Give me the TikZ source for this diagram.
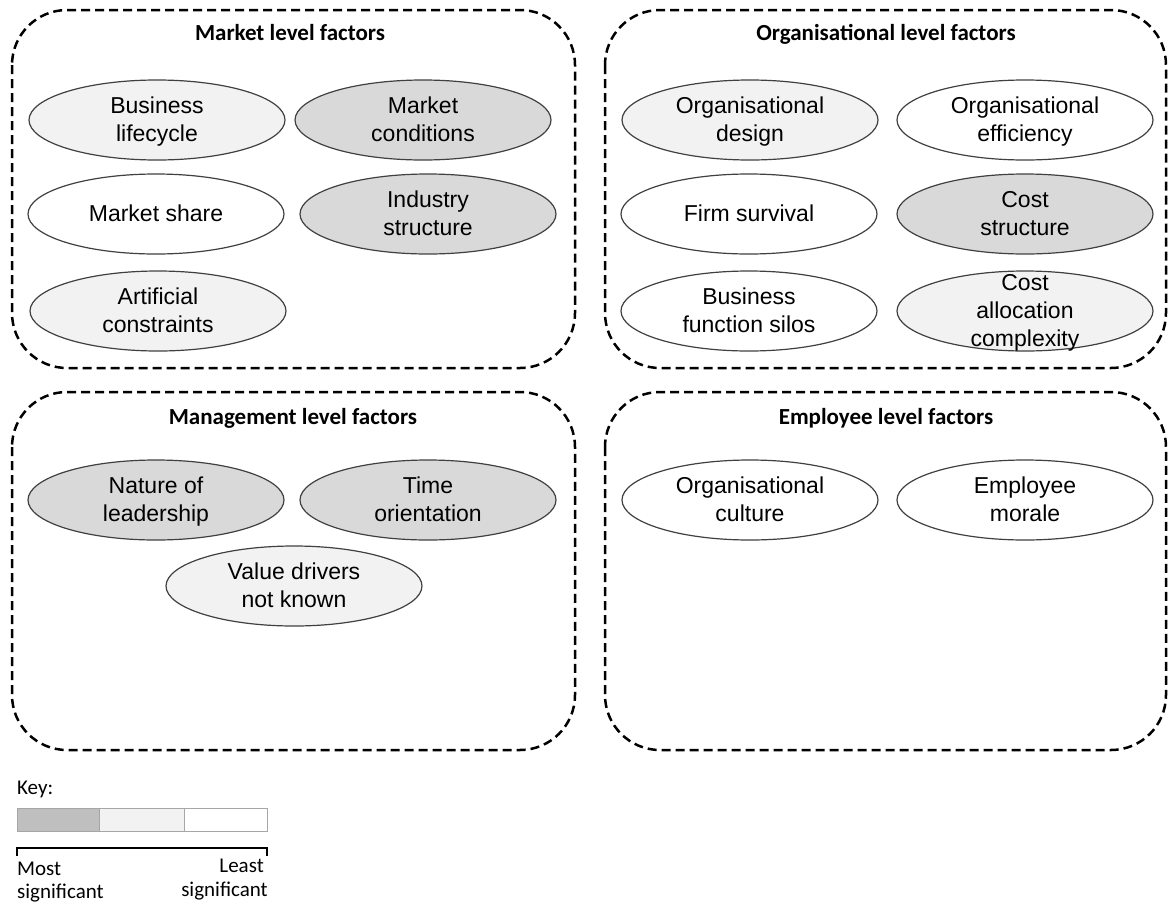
\documentclass[tikz,border=0pt]{standalone}
\usepackage{fontspec}
\setmainfont{Liberation Sans}
\newfontfamily\calibrifont{Carlito}
\usetikzlibrary{shapes.geometric}
\definecolor{sigA}{HTML}{D9D9D9}
\definecolor{sigB}{HTML}{F2F2F2}
\definecolor{keyA}{HTML}{BFBFBF}
\definecolor{edgegray}{HTML}{404040}
\begin{document}
\begin{tikzpicture}[x=1pt,y=-1pt,
  groupbox/.style={draw=black, line width=2.5pt, dash pattern=on 9pt off 5pt, rounded corners=55pt},
  grouptitle/.style={font=\calibrifont\bfseries\fontsize{23}{28}\selectfont, anchor=base, inner sep=0pt},
  factor/.style={ellipse, draw=edgegray, line width=1.2pt, minimum width=256pt, minimum height=80pt, inner sep=0pt},
  most/.style={factor, fill=sigA},
  mid/.style={factor, fill=sigB},
  least/.style={factor, fill=white},
  ftext/.style={align=center, font=\fontsize{23}{28}\selectfont, text=black, inner sep=0pt, yshift=-1.5pt},
  keytext/.style={font=\calibrifont\fontsize{21}{25}\selectfont, inner sep=0pt}
]
\useasboundingbox (0,0) rectangle (1168,903);

% factor groups
\draw[groupbox] (12,10) rectangle (575,368);
\draw[groupbox] (605,10) rectangle (1166,368);
\draw[groupbox] (12,392) rectangle (575,750);
\draw[groupbox] (605,392) rectangle (1166,750);

\node[grouptitle] (tmarket) at (290,40) {Market level factors};
\node[grouptitle] (torg) at (886,40) {Organisational level factors};
\node[grouptitle] (tman) at (293,424) {Management level factors};
\node[grouptitle] (temp) at (886,424) {Employee level factors};

% market level
\node[mid]   (blc) at (157,120) {};
\node[ftext] at (blc) {\strut Business\\\strut lifecycle};
\node[most]  (mc)  at (423,120) {};
\node[ftext] at (mc) {\strut Market\\\strut conditions};
\node[least] (ms)  at (156,214) {};
\node[ftext] at (ms) {\strut Market share};
\node[most]  (is)  at (428,214) {};
\node[ftext] at (is) {\strut Industry\\\strut structure};
\node[mid]   (ac)  at (158,311) {};
\node[ftext] at (ac) {\strut Artificial\\\strut constraints};

% organisational level
\node[mid]   (od)  at (750,120) {};
\node[ftext] at (od) {\strut Organisational\\\strut design};
\node[least] (oe)  at (1025,120) {};
\node[ftext] at (oe) {\strut Organisational\\\strut efficiency};
\node[least] (fs)  at (749,214) {};
\node[ftext] at (fs) {\strut Firm survival};
\node[most]  (cs)  at (1025,214) {};
\node[ftext] at (cs) {\strut Cost\\\strut structure};
\node[least] (bfs) at (749,311) {};
\node[ftext] at (bfs) {\strut Business\\\strut function silos};
\node[mid]   (cac) at (1025,311) {};
\node[ftext] at (cac) {\strut Cost\\\strut allocation\\\strut complexity};

% management level
\node[most]  (nl)  at (156,500) {};
\node[ftext] at (nl) {\strut Nature of\\\strut leadership};
\node[most]  (to)  at (428,500) {};
\node[ftext] at (to) {\strut Time\\\strut orientation};
\node[mid]   (vd)  at (294,586) {};
\node[ftext] at (vd) {\strut Value drivers\\\strut not known};

% employee level
\node[least] (oc)  at (750,500) {};
\node[ftext] at (oc) {\strut Organisational\\\strut culture};
\node[least] (em)  at (1025,500) {};
\node[ftext] at (em) {\strut Employee\\\strut morale};

% key
\node[keytext, anchor=base west] (keylabel) at (17,794) {Key:};
\draw[draw=gray!70, line width=1pt, fill=keyA] (17,808) rectangle (99,831);
\draw[draw=gray!70, line width=1pt, fill=sigB] (99,808) rectangle (184,831);
\draw[draw=gray!70, line width=1pt, fill=white] (184,808) rectangle (267,831);
\draw[line width=1.2pt] (17,856) -- (17,848) -- (267,848) -- (267,856);
\node[keytext, anchor=base west] (most1) at (17,875) {Most};
\node[keytext, anchor=base west] (most2) at (17,898) {significant};
\node[keytext, anchor=base east] (least1) at (264,872) {Least};
\node[keytext, anchor=base east] (least2) at (268,896) {significant};
\end{tikzpicture}
\end{document}
